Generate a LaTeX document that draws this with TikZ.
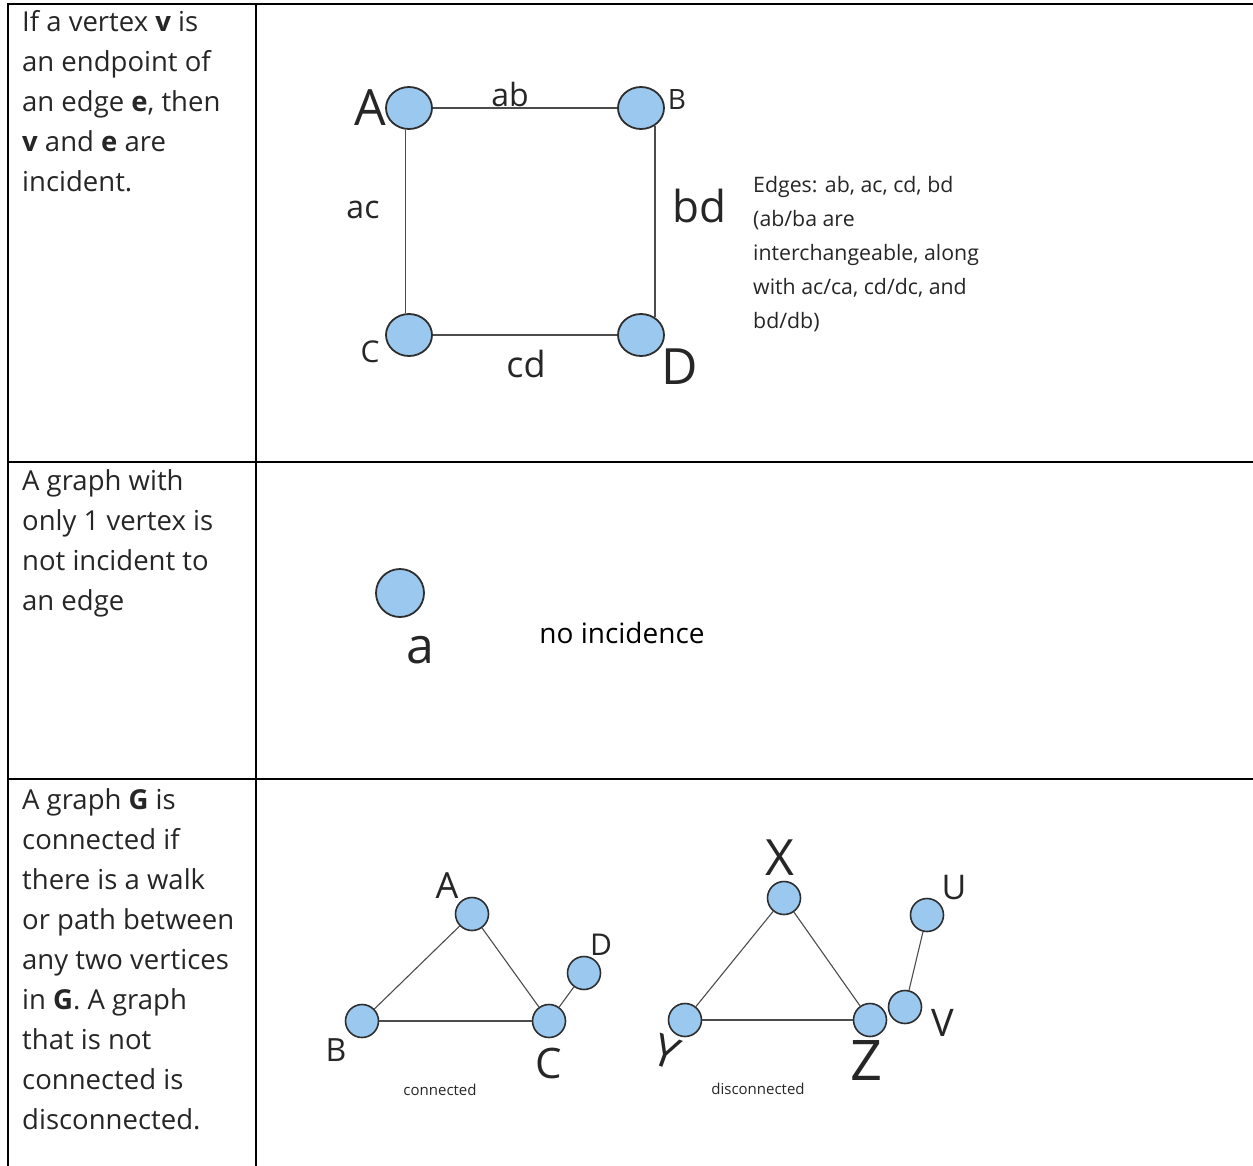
\documentclass[tikz,border=0pt]{standalone}
\usepackage{fontspec}
\setmainfont{Open Sans}
\usetikzlibrary{shapes.geometric}
\definecolor{vblue}{HTML}{9BC8EE}
\definecolor{vline}{HTML}{2E2E2E}
\begin{document}
\begin{tikzpicture}[x=1pt,y=-1pt,
  rule/.style={line width=2.8pt, line cap=rect},
  vtx/.style={circle, draw=vline, line width=1.6pt, fill=vblue, minimum size=33pt, inner sep=0pt},
  bigvtx/.style={ellipse, draw=vline, line width=1.8pt, fill=vblue, minimum width=46pt, minimum height=42pt, inner sep=0pt},
  edge/.style={draw=black!70, line width=1.3pt},
  hand/.style={inner sep=0pt, text=black!85},
  celltext/.style={anchor=north west, inner sep=0pt, align=left, text=black!85, font=\fontsize{27.5}{40}\selectfont},
]
\useasboundingbox (0,0) rectangle (1253,1165);

% table rules
\draw[rule] (8,4) -- (1253,4);
\draw[rule] (8,462) -- (1253,462);
\draw[rule] (8,779) -- (1253,779);
\draw[rule] (8,4) -- (8,1165);
\draw[rule] (256,4) -- (256,1165);

% left column texts
\node[celltext] (t1) at (22,10) {If a vertex \textbf{v} is\\an endpoint of\\an edge \textbf{e}, then\\\textbf{v} and \textbf{e} are\\incident.};
\node[celltext] (t2) at (22,469) {A graph with\\only 1 vertex is\\not incident to\\an edge};
\node[celltext] (t3) at (22,788) {A graph \textbf{G} is\\connected if\\there is a walk\\or path between\\any two vertices\\in \textbf{G}. A graph\\that is not\\connected is\\disconnected.};

% row 1: square graph
\node[bigvtx] (sA) at (409,108) {};
\node[bigvtx] (sB) at (641,108) {};
\node[bigvtx] (sC) at (409,335) {};
\node[bigvtx] (sD) at (641,335) {};
\draw[edge] (sA) -- (sB);
\draw[edge] (sA.-100) -- (sC.100);
\draw[edge] (sB.-52) -- (sD.52);
\draw[edge] (sC) -- (sD);
\node[hand, font=\fontsize{50}{50}\selectfont] (lA) at (370,108) {A};
\node[hand, font=\fontsize{28}{28}\selectfont] (lB) at (677,100) {B};
\node[hand, font=\fontsize{30}{30}\selectfont] (lC) at (370,352) {C};
\node[hand, font=\fontsize{50}{50}\selectfont] (lD) at (680,367) {D};
\node[hand, font=\fontsize{32}{32}\selectfont] (lab) at (510,94) {ab};
\node[hand, font=\fontsize{32}{32}\selectfont] (lac) at (363,210) {ac};
\node[hand, font=\fontsize{44}{44}\selectfont] (lbd) at (699,206) {bd};
\node[hand, font=\fontsize{36}{36}\selectfont] (lcd) at (526,364) {cd};
\node[anchor=north west, inner sep=0pt, align=left, font=\fontsize{21.3}{34}\selectfont, text=black!85] (edges) at (753,176)
  {Edges: ab, ac, cd, bd\\(ab/ba are\\interchangeable, along\\with ac/ca, cd/dc, and\\bd/db)};

% row 2: single vertex
\node[vtx, minimum size=48pt, line width=1.8pt] (a1) at (400,593) {};
\node[hand, font=\fontsize{50}{50}\selectfont] (la1) at (420,650) {a};
\node[hand, font=\fontsize{28}{28}\selectfont, text=black] (noinc) at (622,633) {no incidence};

% row 3: connected graph
\node[vtx] (cA) at (472,914) {};
\node[vtx] (cB) at (362,1021) {};
\node[vtx] (cC) at (549,1021) {};
\node[vtx] (cD) at (584,973) {};
\draw[edge, line width=1.1pt] (cA) -- (cB);
\draw[edge, line width=1.1pt] (cA) -- (cC);
\draw[edge, line width=1.1pt] (cB) -- (cC);
\draw[edge, line width=1.1pt] (cC) -- (cD);
\node[hand, font=\fontsize{36}{36}\selectfont] (lcA) at (447,886) {A};
\node[hand, font=\fontsize{32}{32}\selectfont] (lcB) at (336,1050) {B};
\node[hand, font=\fontsize{42}{42}\selectfont] (lcC) at (549,1063) {C};
\node[hand, font=\fontsize{30}{30}\selectfont] (lcD) at (601,945) {D};
\node[hand, font=\fontsize{15}{15}\selectfont] (conn) at (440,1090) {connected};

% row 3: disconnected graph
\node[vtx] (dX) at (784,898) {};
\node[vtx] (dY) at (685,1020) {};
\node[vtx] (dZ) at (870,1020) {};
\node[vtx] (dV) at (905,1007) {};
\node[vtx] (dU) at (927,915) {};
\draw[edge, line width=1.1pt] (dX) -- (dY);
\draw[edge, line width=1.1pt] (dX) -- (dZ);
\draw[edge, line width=1.1pt] (dY) -- (dZ);
\draw[edge, line width=1.1pt] (dV) -- (dU);
\node[hand, font=\fontsize{50}{50}\selectfont] (lX) at (780,858) {X};
\node[hand, font=\fontsize{44}{44}\selectfont, rotate=-20] (lY) at (666,1052) {Y};
\node[hand, font=\fontsize{56}{56}\selectfont] (lZ) at (866,1060) {Z};
\node[hand, font=\fontsize{38}{38}\selectfont] (lV) at (943,1023) {V};
\node[hand, font=\fontsize{34}{34}\selectfont] (lU) at (954,888) {U};
\node[hand, font=\fontsize{15}{15}\selectfont] (disc) at (758,1089) {disconnected};
\end{tikzpicture}
\end{document}
